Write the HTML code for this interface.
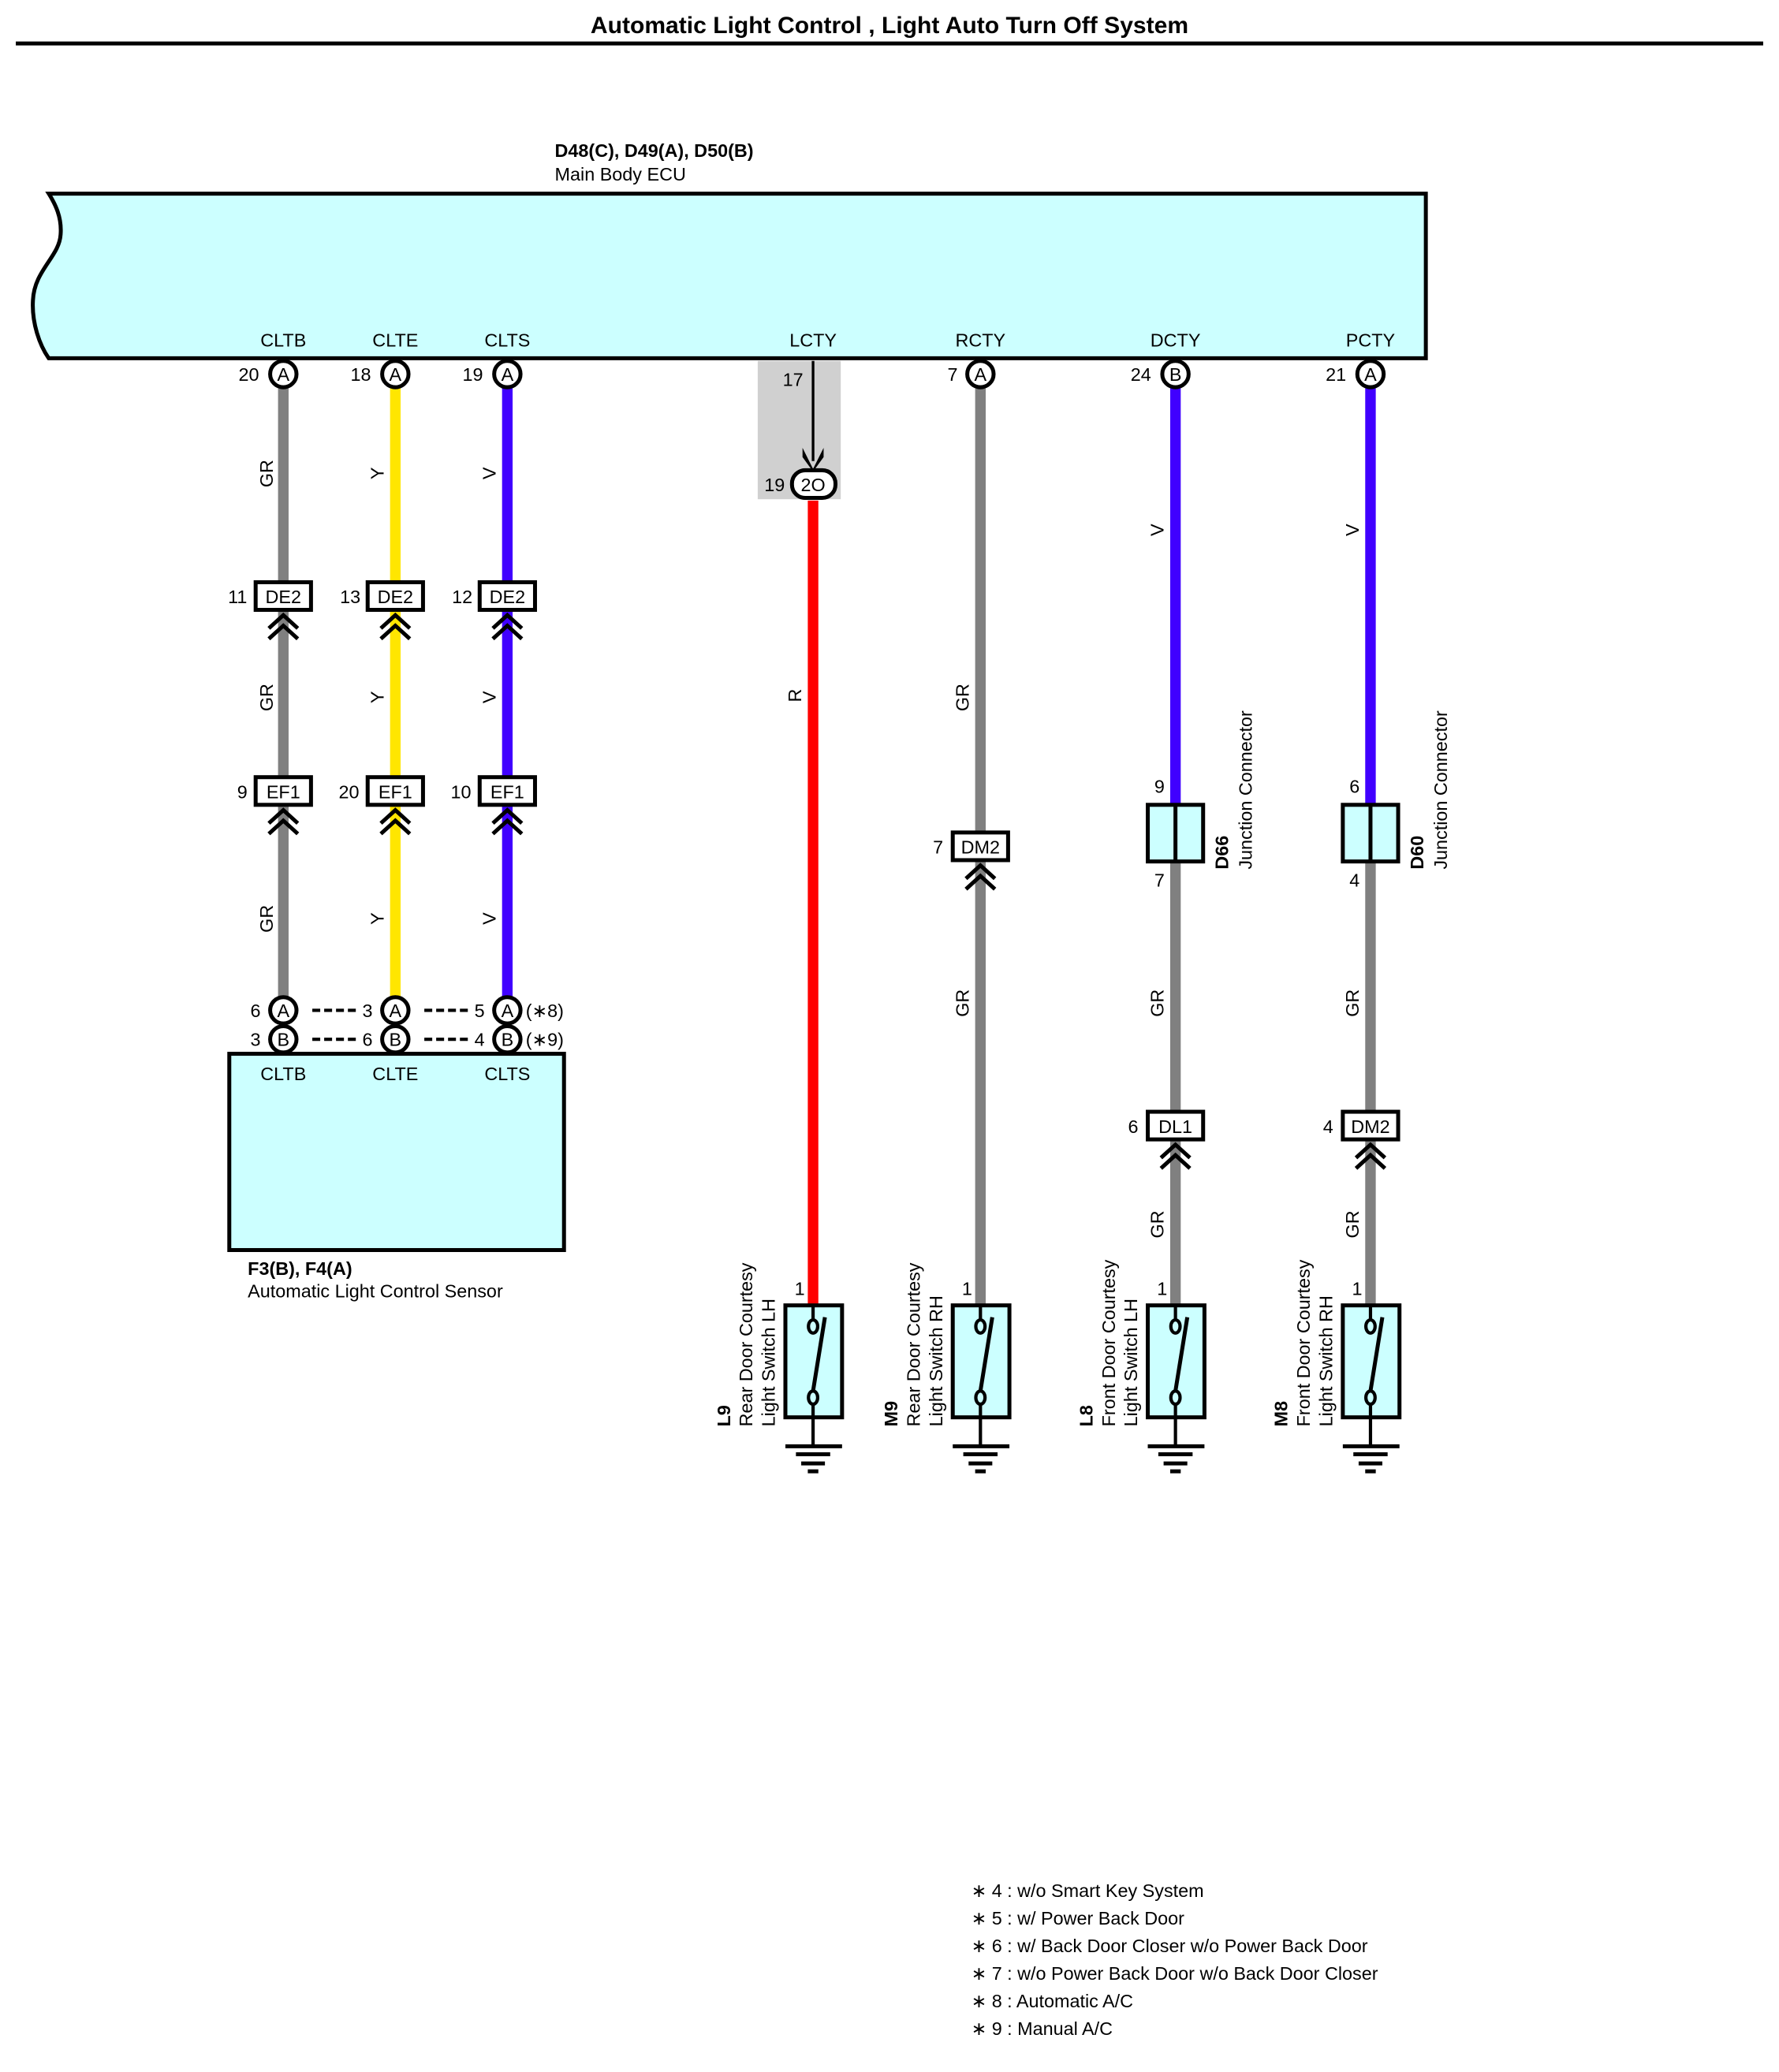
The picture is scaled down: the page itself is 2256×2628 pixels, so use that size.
<!DOCTYPE html>
<html><head><meta charset="utf-8"><style>
html,body{margin:0;padding:0;background:#fff}
svg{display:block}
text{font-family:"Liberation Sans",sans-serif;font-size:14px;fill:#000}
.b{font-weight:bold}
.w{stroke-width:8;fill:none}
.ch{fill:none;stroke:#000;stroke-width:3}
.bx{fill:#fff;stroke:#000;stroke-width:3}
.cy{fill:#ccffff;stroke:#000;stroke-width:3}
</style></head><body>
<svg width="2256" height="2628" viewBox="0 0 1350 1573" preserveAspectRatio="none" xmlns="http://www.w3.org/2000/svg">
<text x="675" y="25" text-anchor="middle" class="b" style="font-size:18px">Automatic Light Control , Light Auto Turn Off System</text>
<line x1="12" y1="33" x2="1338" y2="33" stroke="#000" stroke-width="3"/>

<text x="421" y="119" class="b">D48(C), D49(A), D50(B)</text>
<text x="421" y="137">Main Body ECU</text>
<path d="M37,147 L1082,147 L1082,272 L37,272 C30,262 24,245 25,228 C26,205 45,195 46,178 C47,165 42,155 37,147 Z" class="cy"/>

<g text-anchor="middle">
<text x="215" y="263">CLTB</text><text x="300" y="263">CLTE</text><text x="385" y="263">CLTS</text>
<text x="617" y="263">LCTY</text><text x="744" y="263">RCTY</text><text x="892" y="263">DCTY</text><text x="1040" y="263">PCTY</text>
</g>

<!-- LCTY gray zone -->
<rect x="575" y="274" width="63" height="105" fill="#d0d0d0"/>
<line x1="617" y1="274" x2="617" y2="350" stroke="#000" stroke-width="2"/>
<path d="M609,340 L617,356 L625,340 L625,347 L617,358 L609,347Z" fill="#000"/>
<text x="594" y="293">17</text>
<rect x="601" y="357" width="33" height="21" rx="10" class="bx"/>
<text x="617" y="373" text-anchor="middle">2O</text>
<text x="580" y="373">19</text>

<!-- wires -->
<line x1="215" y1="294" x2="215" y2="757" stroke="#808080" class="w"/>
<line x1="300" y1="294" x2="300" y2="757" stroke="#ffe600" class="w"/>
<line x1="385" y1="294" x2="385" y2="757" stroke="#4000ff" class="w"/>
<line x1="617" y1="380" x2="617" y2="991" stroke="#ff0000" class="w"/>
<line x1="744" y1="294" x2="744" y2="991" stroke="#808080" class="w"/>
<line x1="892" y1="294" x2="892" y2="611" stroke="#4000ff" class="w"/>
<line x1="892" y1="654" x2="892" y2="991" stroke="#808080" class="w"/>
<line x1="1040" y1="294" x2="1040" y2="611" stroke="#4000ff" class="w"/>
<line x1="1040" y1="654" x2="1040" y2="991" stroke="#808080" class="w"/>

<!-- top circles -->
<g>
<circle cx="215" cy="284" r="10" class="bx"/><text x="215" y="289" text-anchor="middle">A</text><text x="181" y="289">20</text>
<circle cx="300" cy="284" r="10" class="bx"/><text x="300" y="289" text-anchor="middle">A</text><text x="266" y="289">18</text>
<circle cx="385" cy="284" r="10" class="bx"/><text x="385" y="289" text-anchor="middle">A</text><text x="351" y="289">19</text>
<circle cx="744" cy="284" r="10" class="bx"/><text x="744" y="289" text-anchor="middle">A</text><text x="719" y="289">7</text>
<circle cx="892" cy="284" r="10" class="bx"/><text x="892" y="289" text-anchor="middle">B</text><text x="858" y="289">24</text>
<circle cx="1040" cy="284" r="10" class="bx"/><text x="1040" y="289" text-anchor="middle">A</text><text x="1006" y="289">21</text>
</g>

<!-- connector boxes with chevrons -->
<g>
<rect x="194" y="442" width="42" height="21" class="bx"/><text x="215" y="458" text-anchor="middle">DE2</text><text x="173" y="458">11</text>
<rect x="279" y="442" width="42" height="21" class="bx"/><text x="300" y="458" text-anchor="middle">DE2</text><text x="258" y="458">13</text>
<rect x="364" y="442" width="42" height="21" class="bx"/><text x="385" y="458" text-anchor="middle">DE2</text><text x="343" y="458">12</text>
<rect x="194" y="590" width="42" height="21" class="bx"/><text x="215" y="606" text-anchor="middle">EF1</text><text x="180" y="606">9</text>
<rect x="279" y="590" width="42" height="21" class="bx"/><text x="300" y="606" text-anchor="middle">EF1</text><text x="257" y="606">20</text>
<rect x="364" y="590" width="42" height="21" class="bx"/><text x="385" y="606" text-anchor="middle">EF1</text><text x="342" y="606">10</text>
<rect x="723" y="632" width="42" height="21" class="bx"/><text x="744" y="648" text-anchor="middle">DM2</text><text x="708" y="648">7</text>
<rect x="871" y="844" width="42" height="21" class="bx"/><text x="892" y="860" text-anchor="middle">DL1</text><text x="856" y="860">6</text>
<rect x="1019" y="844" width="42" height="21" class="bx"/><text x="1040" y="860" text-anchor="middle">DM2</text><text x="1004" y="860">4</text>
</g>
<g class="ch">
<path d="M204,477 L215,467 L226,477 M204,485 L215,475 L226,485"/>
<path d="M289,477 L300,467 L311,477 M289,485 L300,475 L311,485"/>
<path d="M374,477 L385,467 L396,477 M374,485 L385,475 L396,485"/>
<path d="M204,625 L215,615 L226,625 M204,633 L215,623 L226,633"/>
<path d="M289,625 L300,615 L311,625 M289,633 L300,623 L311,633"/>
<path d="M374,625 L385,615 L396,625 M374,633 L385,623 L396,633"/>
<path d="M733,667 L744,657 L755,667 M733,675 L744,665 L755,675"/>
<path d="M881,879 L892,869 L903,879 M881,887 L892,877 L903,887"/>
<path d="M1029,879 L1040,869 L1051,879 M1029,887 L1040,877 L1051,887"/>
</g>

<!-- junction connectors -->
<rect x="871" y="611" width="42" height="43" class="cy"/><line x1="892" y1="611" x2="892" y2="654" stroke="#000" stroke-width="3"/>
<rect x="1019" y="611" width="42" height="43" class="cy"/><line x1="1040" y1="611" x2="1040" y2="654" stroke="#000" stroke-width="3"/>
<text x="876" y="602">9</text><text x="876" y="673">7</text>
<text x="1024" y="602">6</text><text x="1024" y="673">4</text>
<text transform="translate(932,660) rotate(-90)" class="b">D66</text>
<text transform="translate(950,660) rotate(-90)">Junction Connector</text>
<text transform="translate(1080,660) rotate(-90)" class="b">D60</text>
<text transform="translate(1098,660) rotate(-90)">Junction Connector</text>

<!-- wire color labels -->
<g>
<text transform="translate(207,370) rotate(-90)">GR</text>
<text transform="translate(207,540) rotate(-90)">GR</text>
<text transform="translate(207,708) rotate(-90)">GR</text>
<text transform="translate(291,364) rotate(-90)">Y</text>
<text transform="translate(291,534) rotate(-90)">Y</text>
<text transform="translate(291,702) rotate(-90)">Y</text>
<text transform="translate(376,364) rotate(-90)">V</text>
<text transform="translate(376,534) rotate(-90)">V</text>
<text transform="translate(376,702) rotate(-90)">V</text>
<text transform="translate(608,533) rotate(-90)">R</text>
<text transform="translate(735,540) rotate(-90)">GR</text>
<text transform="translate(735,772) rotate(-90)">GR</text>
<text transform="translate(883,407) rotate(-90)">V</text>
<text transform="translate(883,772) rotate(-90)">GR</text>
<text transform="translate(883,940) rotate(-90)">GR</text>
<text transform="translate(1031,407) rotate(-90)">V</text>
<text transform="translate(1031,772) rotate(-90)">GR</text>
<text transform="translate(1031,940) rotate(-90)">GR</text>
</g>

<!-- sensor connectors -->
<g>
<circle cx="215" cy="767" r="10" class="bx"/><text x="215" y="772" text-anchor="middle">A</text><text x="190" y="772">6</text>
<circle cx="300" cy="767" r="10" class="bx"/><text x="300" y="772" text-anchor="middle">A</text><text x="275" y="772">3</text>
<circle cx="385" cy="767" r="10" class="bx"/><text x="385" y="772" text-anchor="middle">A</text><text x="360" y="772">5</text>
<circle cx="215" cy="789" r="10" class="bx"/><text x="215" y="794" text-anchor="middle">B</text><text x="190" y="794">3</text>
<circle cx="300" cy="789" r="10" class="bx"/><text x="300" y="794" text-anchor="middle">B</text><text x="275" y="794">6</text>
<circle cx="385" cy="789" r="10" class="bx"/><text x="385" y="794" text-anchor="middle">B</text><text x="360" y="794">4</text>
<text x="399" y="772">(∗8)</text><text x="399" y="794">(∗9)</text>
<path d="M237,767 H270 M322,767 H355 M237,789 H270 M322,789 H355" stroke="#000" stroke-width="2.5" stroke-dasharray="6,3"/>
</g>
<rect x="174" y="800" width="254" height="149" class="cy"/>
<g text-anchor="middle"><text x="215" y="820">CLTB</text><text x="300" y="820">CLTE</text><text x="385" y="820">CLTS</text></g>
<text x="188" y="968" class="b">F3(B), F4(A)</text>
<text x="188" y="985">Automatic Light Control Sensor</text>

<!-- switches -->
<g id="sw">
<rect x="596" y="991" width="43" height="85" class="cy"/>
<line x1="617" y1="991" x2="617" y2="1003" stroke="#000" stroke-width="2.5"/>
<ellipse cx="617" cy="1007" rx="3.5" ry="5" fill="none" stroke="#000" stroke-width="2.5"/>
<ellipse cx="617" cy="1061" rx="3.5" ry="5" fill="none" stroke="#000" stroke-width="2.5"/>
<line x1="617" y1="1056" x2="626" y2="1000" stroke="#000" stroke-width="3"/>
<line x1="617" y1="1066" x2="617" y2="1098" stroke="#000" stroke-width="2.5"/>
<path d="M596,1098 H639 M604,1104 H630 M608,1111 H626 M613,1117 H621" stroke="#000" stroke-width="3"/>
<text x="603" y="983">1</text>
</g>
<use href="#sw" x="127"/>
<use href="#sw" x="275"/>
<use href="#sw" x="423"/>
<g>
<text transform="translate(554,1083) rotate(-90)" class="b">L9</text>
<text transform="translate(571,1083) rotate(-90)">Rear Door Courtesy</text>
<text transform="translate(588,1083) rotate(-90)">Light Switch LH</text>
<text transform="translate(681,1083) rotate(-90)" class="b">M9</text>
<text transform="translate(698,1083) rotate(-90)">Rear Door Courtesy</text>
<text transform="translate(715,1083) rotate(-90)">Light Switch RH</text>
<text transform="translate(829,1083) rotate(-90)" class="b">L8</text>
<text transform="translate(846,1083) rotate(-90)">Front Door Courtesy</text>
<text transform="translate(863,1083) rotate(-90)">Light Switch LH</text>
<text transform="translate(977,1083) rotate(-90)" class="b">M8</text>
<text transform="translate(994,1083) rotate(-90)">Front Door Courtesy</text>
<text transform="translate(1011,1083) rotate(-90)">Light Switch RH</text>
</g>

<!-- notes -->
<g>
<text x="737" y="1440">∗ 4 : w/o Smart Key System</text>
<text x="737" y="1461">∗ 5 : w/ Power Back Door</text>
<text x="737" y="1482">∗ 6 : w/ Back Door Closer w/o Power Back Door</text>
<text x="737" y="1503">∗ 7 : w/o Power Back Door w/o Back Door Closer</text>
<text x="737" y="1524">∗ 8 : Automatic A/C</text>
<text x="737" y="1545">∗ 9 : Manual A/C</text>
</g>
</svg>
</body></html>
